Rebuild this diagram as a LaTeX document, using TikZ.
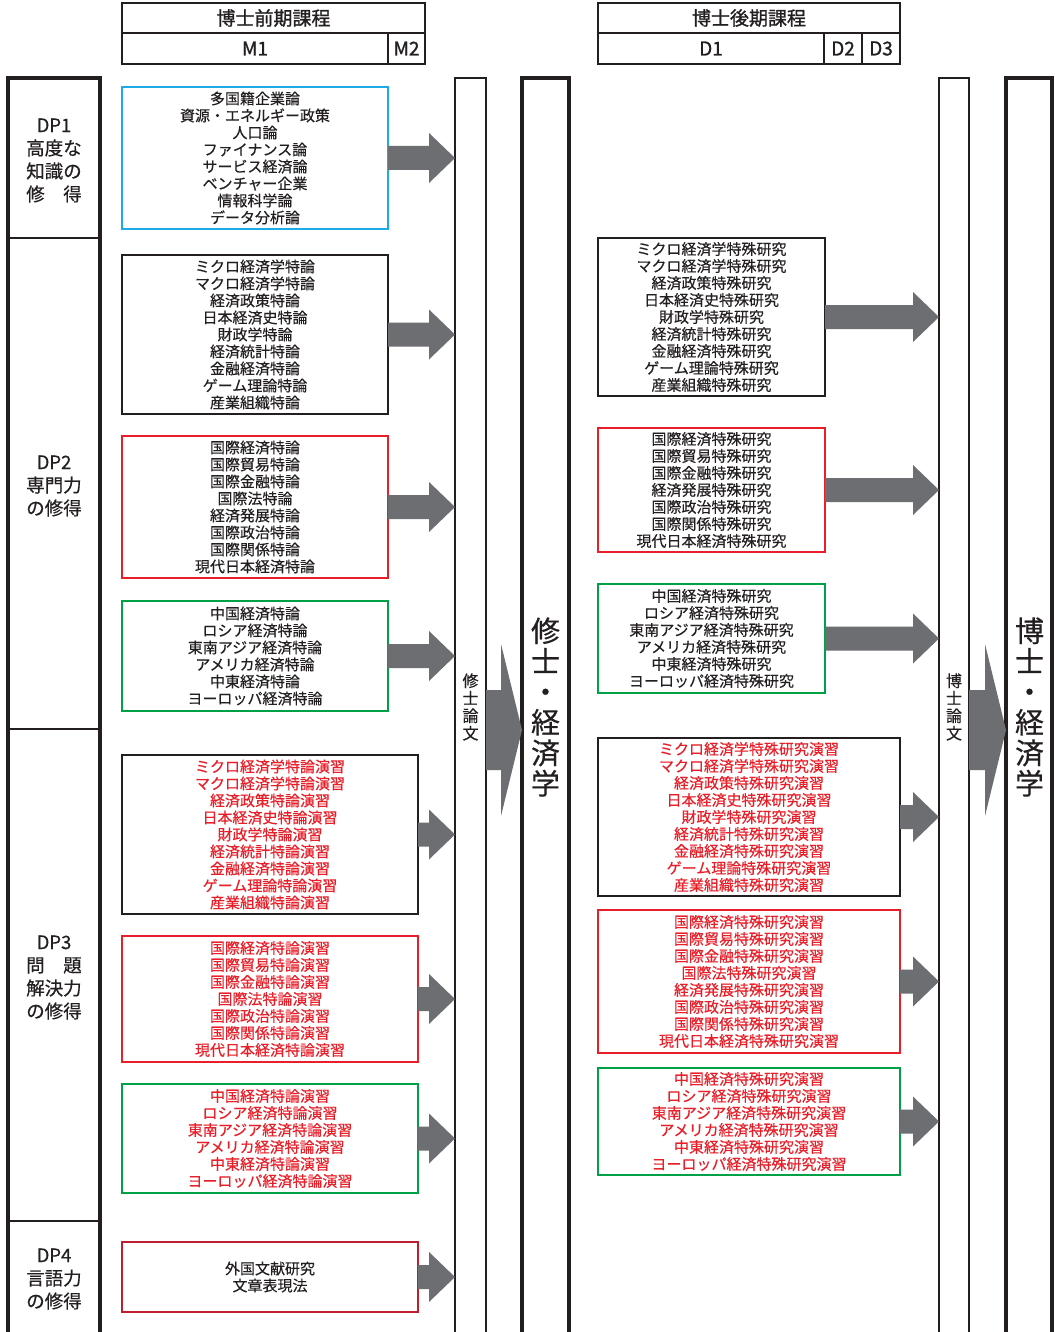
\documentclass[tikz,border=0pt]{standalone}
\usepackage{fontspec}
\setmainfont{Noto Sans CJK JP}
\newfontfamily\hdrfont{Noto Sans CJK JP}[FakeBold=1.2]
\newfontfamily\txtfont{Noto Sans CJK JP}[FakeBold=0.4]
\usetikzlibrary{calc}
\definecolor{ink}{RGB}{35,31,32}
\definecolor{cyanb}{RGB}{30,170,230}
\definecolor{redb}{RGB}{232,30,40}
\definecolor{greenb}{RGB}{0,160,70}
\definecolor{darkred}{RGB}{190,30,45}
\definecolor{arrowc}{RGB}{109,110,113}
\newcommand\fatarrow[2]{%
  \fill[arrowc] let \p1=(#1.east), \p2=(#2.west) in
    (\x1,\y1+12pt) -- (\x2-26pt,\y1+12pt) -- (\x2-26pt,\y1+25pt) -- (\x2,\y1)
    -- (\x2-26pt,\y1-25pt) -- (\x2-26pt,\y1-12pt) -- (\x1,\y1-12pt) -- cycle;}
\newcommand\widearrow[2]{%
  \fill[arrowc] let \p1=(#1.east), \p2=(#2.west), \p3=(0,730) in
    (\x1,\y3+40pt) -- (\x2-21pt,\y3+40pt) -- (\x2-21pt,\y3+86pt) -- (\x2,\y3)
    -- (\x2-21pt,\y3-86pt) -- (\x2-21pt,\y3-40pt) -- (\x1,\y3-40pt) -- cycle;}
\begin{document}
\begin{tikzpicture}[x=1pt,y=-1pt,
  every node/.style={text=ink, outer sep=0pt},
  box/.style={draw, line width=2pt, anchor=north west, inner sep=0pt, align=center,
    font=\txtfont\fontsize{15}{17}\selectfont},
  hdr/.style={draw=ink, line width=1.3pt, anchor=north west, inner sep=0pt,
    font=\hdrfont\fontsize{19}{20}\selectfont},
  dpcell/.style={draw=ink, line width=1.6pt, anchor=north west, inner sep=0pt,
    minimum width=92pt},
  dplabel/.style={align=center, inner sep=0pt, font=\txtfont\fontsize{18.5}{23}\selectfont},
  thincol/.style={draw=ink, line width=1.3pt, anchor=north west, inner sep=0pt, minimum height=1290pt},
  thickcol/.style={draw=ink, line width=3.5pt, anchor=north west, inner sep=0pt, minimum height=1290pt},
  vsmall/.style={align=center, inner sep=0pt, font=\txtfont\fontsize{16}{17.5}\selectfont},
  vbig/.style={align=center, inner sep=0pt, font=\txtfont\fontsize{29}{30.5}\selectfont},
  redtext/.style={text=redb}
]
\useasboundingbox (0,0) rectangle (1054,1332);
\fill[white] (0,0) rectangle (1054,1332);

% headers
\node[hdr, minimum width=303pt, minimum height=30pt] (h1) at (122,3) {博士前期課程};
\node[hdr, minimum width=266pt, minimum height=31pt] (m1) at (122,33) {M1};
\node[hdr, minimum width=37pt, minimum height=31pt] (m2) at (388,33) {M2};
\node[hdr, minimum width=302pt, minimum height=30pt] (h2) at (598,3) {博士後期課程};
\node[hdr, minimum width=226pt, minimum height=31pt] (d1) at (598,33) {D1};
\node[hdr, minimum width=38pt, minimum height=31pt] (d2) at (824,33) {D2};
\node[hdr, minimum width=38pt, minimum height=31pt] (d3) at (862,33) {D3};

% DP column
\node[dpcell, minimum height=160pt] (dp1) at (8,78) {};
\node[dpcell, minimum height=491pt] (dp2) at (8,238) {};
\node[dpcell, minimum height=492pt] (dp3) at (8,729) {};
\node[dpcell, minimum height=113pt] (dp4) at (8,1221) {};
\draw[ink, line width=3.5pt] (dp4.south west) -- (dp1.north west) -- (dp1.north east) -- (dp4.south east);
\node[dplabel] (l1) at ($(dp1.center)+(0,2.5)$) {DP1\\高度な\\知識の\\修　得};
\node[dplabel] (l2) at ($(dp2.center)+(0,2.5)$) {DP2\\専門力\\の修得};
\node[dplabel] (l3) at ($(dp3.center)+(0,2.5)$) {DP3\\問　題\\解決力\\の修得};
\node[dplabel] (l4) at ($(dp4.center)+(0,1.5)$) {DP4\\言語力\\の修得};

% columns
\node[thincol, minimum width=31pt] (nc1) at (455,78) {};
\node[thickcol, minimum width=47pt] (tc1) at (522,78) {};
\node[thincol, minimum width=30pt] (nc2) at (939,78) {};
\node[thickcol, minimum width=46pt] (tc2) at (1006,78) {};
\node[vsmall] (t1) at (470.5,707) {修\\士\\論\\文};
\node[vbig] (t2) at (545.5,707) {修\\士\\・\\経\\済\\学};
\node[vsmall] (t3) at (954,707) {博\\士\\論\\文};
\node[vbig] (t4) at (1029.5,707) {博\\士\\・\\経\\済\\学};

% left boxes
\node[box, draw=cyanb, minimum width=266pt, minimum height=142pt] (a1) at (122,87)
  {多国籍企業論\\資源・エネルギー政策\\人口論\\ファイナンス論\\サービス経済論\\ベンチャー企業\\情報科学論\\データ分析論};
\node[box, draw=ink, minimum width=266pt, minimum height=159pt] (a2) at (122,255)
  {ミクロ経済学特論\\マクロ経済学特論\\経済政策特論\\日本経済史特論\\財政学特論\\経済統計特論\\金融経済特論\\ゲーム理論特論\\産業組織特論};
\node[box, draw=redb, minimum width=266pt, minimum height=142pt] (a3) at (122,436)
  {国際経済特論\\国際貿易特論\\国際金融特論\\国際法特論\\経済発展特論\\国際政治特論\\国際関係特論\\現代日本経済特論};
\node[box, draw=greenb, minimum width=266pt, minimum height=110pt] (a4) at (122,601)
  {中国経済特論\\ロシア経済特論\\東南アジア経済特論\\アメリカ経済特論\\中東経済特論\\ヨーロッパ経済特論};
\node[box, draw=ink, redtext, minimum width=296pt, minimum height=159pt] (a5) at (122,755)
  {ミクロ経済学特論演習\\マクロ経済学特論演習\\経済政策特論演習\\日本経済史特論演習\\財政学特論演習\\経済統計特論演習\\金融経済特論演習\\ゲーム理論特論演習\\産業組織特論演習};
\node[box, draw=redb, redtext, minimum width=296pt, minimum height=126pt] (a6) at (122,936)
  {国際経済特論演習\\国際貿易特論演習\\国際金融特論演習\\国際法特論演習\\国際政治特論演習\\国際関係特論演習\\現代日本経済特論演習};
\node[box, draw=greenb, redtext, minimum width=296pt, minimum height=109pt] (a7) at (122,1084)
  {中国経済特論演習\\ロシア経済特論演習\\東南アジア経済特論演習\\アメリカ経済特論演習\\中東経済特論演習\\ヨーロッパ経済特論演習};
\node[box, draw=darkred, minimum width=296pt, minimum height=70pt] (a8) at (122,1242)
  {外国文献研究\\文章表現法};

% right boxes
\node[box, draw=ink, minimum width=227pt, minimum height=158pt] (b1) at (598,238)
  {ミクロ経済学特殊研究\\マクロ経済学特殊研究\\経済政策特殊研究\\日本経済史特殊研究\\財政学特殊研究\\経済統計特殊研究\\金融経済特殊研究\\ゲーム理論特殊研究\\産業組織特殊研究};
\node[box, draw=redb, minimum width=227pt, minimum height=124pt] (b2) at (598,428)
  {国際経済特殊研究\\国際貿易特殊研究\\国際金融特殊研究\\経済発展特殊研究\\国際政治特殊研究\\国際関係特殊研究\\現代日本経済特殊研究};
\node[box, draw=greenb, minimum width=227pt, minimum height=109pt] (b3) at (598,584)
  {中国経済特殊研究\\ロシア経済特殊研究\\東南アジア経済特殊研究\\アメリカ経済特殊研究\\中東経済特殊研究\\ヨーロッパ経済特殊研究};
\node[box, draw=ink, redtext, minimum width=302pt, minimum height=158pt] (b4) at (598,738)
  {ミクロ経済学特殊研究演習\\マクロ経済学特殊研究演習\\経済政策特殊研究演習\\日本経済史特殊研究演習\\財政学特殊研究演習\\経済統計特殊研究演習\\金融経済特殊研究演習\\ゲーム理論特殊研究演習\\産業組織特殊研究演習};
\node[box, draw=redb, redtext, minimum width=302pt, minimum height=143pt] (b5) at (598,910)
  {国際経済特殊研究演習\\国際貿易特殊研究演習\\国際金融特殊研究演習\\国際法特殊研究演習\\経済発展特殊研究演習\\国際政治特殊研究演習\\国際関係特殊研究演習\\現代日本経済特殊研究演習};
\node[box, draw=greenb, redtext, minimum width=302pt, minimum height=107pt] (b6) at (598,1068)
  {中国経済特殊研究演習\\ロシア経済特殊研究演習\\東南アジア経済特殊研究演習\\アメリカ経済特殊研究演習\\中東経済特殊研究演習\\ヨーロッパ経済特殊研究演習};

% arrows
\foreach \b in {a1,a2,a3,a4,a5,a6,a7,a8} {\fatarrow{\b}{nc1}}
\foreach \b in {b1,b2,b3,b4,b5,b6} {\fatarrow{\b}{nc2}}
\widearrow{nc1}{tc1}
\widearrow{nc2}{tc2}
\end{tikzpicture}
\end{document}
